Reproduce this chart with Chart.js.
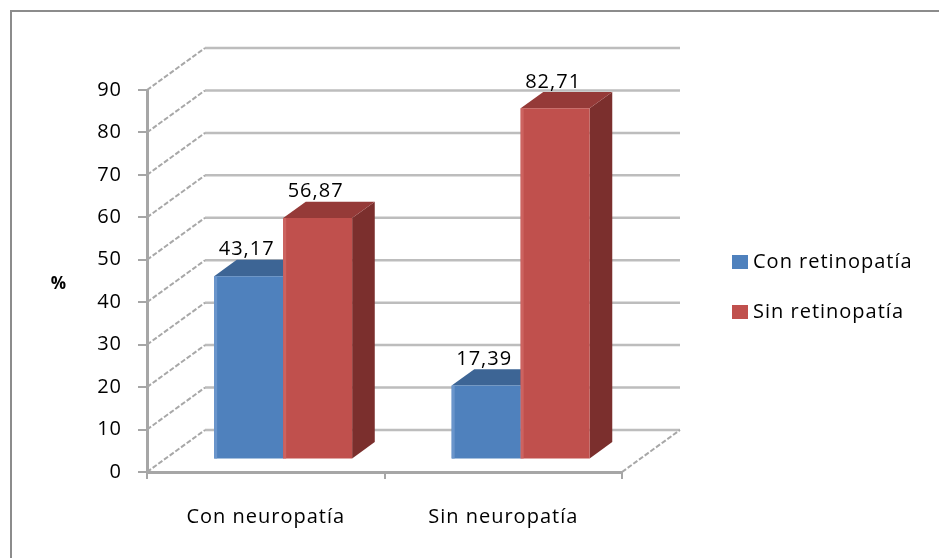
<!DOCTYPE html>
<html>
<head>
<meta charset="utf-8">
<script src="https://cdn.jsdelivr.net/npm/chart.js@4/dist/chart.umd.min.js"></script>
<style>
  html, body { margin: 0; padding: 0; background: #fff; }
  #wrap { width: 939px; height: 558px; }
</style>
</head>
<body>
<div id="wrap"><canvas id="barChart" width="939" height="558"></canvas></div>
<script>
document.addEventListener("DOMContentLoaded", function () {
    // categories and series
    const categories = ['Con neuropatía', 'Sin neuropatía'];
    const conRetinopatia = [43.17, 17.39];
    const sinRetinopatia = [56.87, 82.71];
    const yTicks = [0, 10, 20, 30, 40, 50, 60, 70, 80, 90];

    const FONT = "'Open Sans', 'Liberation Sans', sans-serif";

    // 3D look: depth of the whole plot box, and where the bars sit inside it
    const DEPTH = { x: 58, y: -42 };
    const BAR_FRONT = 0.30;   // fraction of depth in front of bars
    const BAR_DEPTH = 0.39;   // fraction of depth taken by bars

    const faceColors = [
        { front: '#4f81bd', edge: '#6a95cb', top: '#3d6595', side: '#365a86' },
        { front: '#c0504d', edge: '#cc6360', top: '#953a38', side: '#7b2f2d' }
    ];

    function fmt(v) {
        return v.toFixed(2).replace('.', ',');
    }

    const threeD = {
        id: 'threeD',
        beforeDraw(chart) {
            const ctx = chart.ctx;
            // wider text spacing for every label on the canvas
            ctx.letterSpacing = '1px';
            // outer frame of the chart object
            ctx.save();
            ctx.strokeStyle = '#8c8c8c';
            ctx.lineWidth = 2;
            ctx.beginPath();
            ctx.moveTo(11, 558);
            ctx.lineTo(11, 11);
            ctx.lineTo(939, 11);
            ctx.stroke();
            ctx.restore();
        },
        beforeDatasetsDraw(chart) {
            const ctx = chart.ctx;
            const area = chart.chartArea;
            const ys = chart.scales.y;

            ctx.save();
            // back wall
            ctx.strokeStyle = '#bdbdbd';
            ctx.lineWidth = 2.5;
            yTicks.forEach(function (v) {
                const y = ys.getPixelForValue(v) + DEPTH.y;
                ctx.beginPath();
                ctx.moveTo(area.left + DEPTH.x, y);
                ctx.lineTo(area.right + DEPTH.x, y);
                ctx.stroke();
            });
            // side wall
            ctx.strokeStyle = '#a8a8a8';
            ctx.lineWidth = 2;
            ctx.setLineDash([5, 2]);
            yTicks.forEach(function (v) {
                const y = ys.getPixelForValue(v);
                ctx.beginPath();
                ctx.moveTo(area.left, y);
                ctx.lineTo(area.left + DEPTH.x, y + DEPTH.y);
                ctx.stroke();
            });
            // floor, right edge
            ctx.beginPath();
            ctx.moveTo(area.right, area.bottom);
            ctx.lineTo(area.right + DEPTH.x, area.bottom + DEPTH.y);
            ctx.stroke();
            ctx.setLineDash([]);
            ctx.restore();

            // move into the bar plane; faces drawn now end up behind the front faces
            ctx.save();
            ctx.translate(DEPTH.x * BAR_FRONT, DEPTH.y * BAR_FRONT);
            const bx = DEPTH.x * BAR_DEPTH, by = DEPTH.y * BAR_DEPTH;
            chart.data.datasets.forEach(function (ds, di) {
                const meta = chart.getDatasetMeta(di);
                meta.data.forEach(function (el) {
                    const p = el.getProps(['x', 'y', 'base', 'width'], true);
                    const x0 = p.x - p.width / 2, x1 = p.x + p.width / 2;
                    // side face
                    ctx.fillStyle = faceColors[di].side;
                    ctx.beginPath();
                    ctx.moveTo(x1, p.y);
                    ctx.lineTo(x1 + bx, p.y + by);
                    ctx.lineTo(x1 + bx, p.base + by);
                    ctx.lineTo(x1, p.base);
                    ctx.closePath();
                    ctx.fill();
                    // top face
                    ctx.fillStyle = faceColors[di].top;
                    ctx.beginPath();
                    ctx.moveTo(x0, p.y);
                    ctx.lineTo(x1, p.y);
                    ctx.lineTo(x1 + bx, p.y + by);
                    ctx.lineTo(x0 + bx, p.y + by);
                    ctx.closePath();
                    ctx.fill();
                });
            });
        },
        afterDatasetsDraw(chart) {
            const ctx = chart.ctx;
            const by = DEPTH.y * BAR_DEPTH;
            // light left edge of each front face
            chart.data.datasets.forEach(function (ds, di) {
                chart.getDatasetMeta(di).data.forEach(function (el) {
                    const p = el.getProps(['x', 'y', 'base', 'width'], true);
                    ctx.fillStyle = faceColors[di].edge;
                    ctx.fillRect(p.x - p.width / 2, p.y, 3, p.base - p.y);
                });
            });
            // value labels above each bar
            ctx.fillStyle = '#000';
            ctx.font = '20px ' + FONT;
            ctx.textAlign = 'center';
            ctx.textBaseline = 'middle';
            chart.data.datasets.forEach(function (ds, di) {
                const meta = chart.getDatasetMeta(di);
                meta.data.forEach(function (el, i) {
                    const p = el.getProps(['x', 'y'], true);
                    ctx.fillText(fmt(ds.data[i]), p.x - 2, p.y + by - 10);
                });
            });
            ctx.restore();
        },
        afterDraw(chart) {
            const ctx = chart.ctx;
            ctx.save();
            // axis title
            ctx.fillStyle = '#000';
            ctx.font = 'bold 17px ' + FONT;
            ctx.textAlign = 'center';
            ctx.textBaseline = 'middle';
            ctx.fillText('%', 59, 284);
            // legend
            ctx.font = '20px ' + FONT;
            ctx.textAlign = 'left';
            chart.data.datasets.forEach(function (ds, di) {
                const cy = 262 + di * 50;
                ctx.fillStyle = ds.backgroundColor;
                ctx.fillRect(732, cy - 7, 16, 14);
                ctx.fillStyle = '#000';
                ctx.fillText(ds.label, 753, cy);
            });
            ctx.restore();
        }
    };

    const ctx = document.getElementById('barChart').getContext('2d');
    new Chart(ctx, {
        type: 'bar',
        data: {
            labels: categories,
            datasets: [{
                label: 'Con retinopatía',
                data: conRetinopatia,
                backgroundColor: faceColors[0].front,
                borderWidth: 0,
                clip: false
            }, {
                label: 'Sin retinopatía',
                data: sinRetinopatia,
                backgroundColor: faceColors[1].front,
                borderWidth: 0,
                clip: false
            }]
        },
        options: {
            responsive: false,
            animation: false,
            devicePixelRatio: 1,
            categoryPercentage: 0.581,
            barPercentage: 1.0,
            layout: {
                padding: { left: 0, top: 90, right: 317, bottom: 0 }
            },
            plugins: {
                legend: { display: false },
                tooltip: { enabled: false }
            },
            scales: {
                x: {
                    afterFit: function (s) { s.height = 86; },
                    grid: {
                        drawOnChartArea: false,
                        color: '#a6a6a6',
                        lineWidth: 2,
                        tickLength: 7
                    },
                    border: { display: true, color: '#a6a6a6', width: 3 },
                    ticks: {
                        color: '#000',
                        font: { family: FONT, size: 20 },
                        padding: 26
                    }
                },
                y: {
                    min: 0,
                    max: 90,
                    afterFit: function (s) { s.width = 147; },
                    afterBuildTicks: function (s) {
                        s.ticks = yTicks.map(function (v) { return { value: v }; });
                    },
                    grid: {
                        drawOnChartArea: false,
                        color: '#a6a6a6',
                        lineWidth: 2,
                        tickLength: 9
                    },
                    border: { display: true, color: '#a6a6a6', width: 3 },
                    ticks: {
                        color: '#000',
                        font: { family: FONT, size: 20 },
                        padding: 16
                    }
                }
            }
        },
        plugins: [threeD]
    });
});
</script>
</body>
</html>
